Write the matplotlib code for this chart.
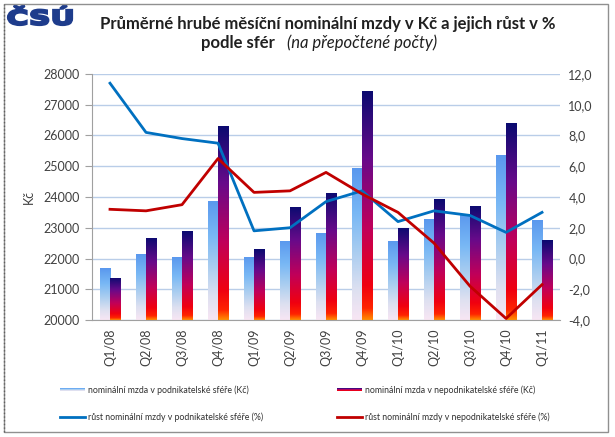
import numpy as np
import matplotlib
matplotlib.use("Agg")
import matplotlib.pyplot as plt
from matplotlib.colors import LinearSegmentedColormap
from matplotlib.patches import Rectangle, PathPatch
from matplotlib.lines import Line2D
from matplotlib.legend_handler import HandlerBase
from matplotlib.textpath import TextPath
from matplotlib.font_manager import FontProperties
from matplotlib.transforms import Affine2D
from matplotlib.ticker import FuncFormatter, MultipleLocator

plt.rcParams["font.family"] = ["Lato", "DejaVu Sans"]

quarters = ["Q1/08", "Q2/08", "Q3/08", "Q4/08", "Q1/09", "Q2/09", "Q3/09",
            "Q4/09", "Q1/10", "Q2/10", "Q3/10", "Q4/10", "Q1/11"]
mzda_podnik = [21680, 22140, 22040, 23870, 22060, 22580, 22840,
               24930, 22580, 23270, 23430, 25380, 23250]
mzda_nepodnik = [21380, 22680, 22880, 26320, 22300, 23690, 24140,
                 27450, 23000, 23920, 23720, 26390, 22600]
rust_podnik = [11.4, 8.2, 7.8, 7.5, 1.8, 2.0, 3.7, 4.4, 2.4, 3.1, 2.8, 1.7, 3.0]
rust_nepodnik = [3.2, 3.1, 3.5, 6.5, 4.3, 4.4, 5.6, 4.2, 3.0, 1.0, -1.8, -3.9, -1.7]

labels = ["nominální mzda v podnikatelské sféře (Kč)",
          "nominální mzda v nepodnikatelské sféře (Kč)",
          "růst nominální mzdy v podnikatelské sféře (%)",
          "růst nominální mzdy v nepodnikatelské sféře (%)"]

cmap_light = LinearSegmentedColormap.from_list("light", [
    (0.0, "#f8e6f4"), (0.2, "#dde0f0"), (0.45, "#a9cdf0"),
    (0.7, "#79b8f5"), (1.0, "#5a98ee")])
cmap_dark = LinearSegmentedColormap.from_list("dark", [
    (0.0, "#ff8c00"), (0.05, "#ff2400"), (0.15, "#f00010"),
    (0.4, "#c0005a"), (0.7, "#680a8a"), (1.0, "#0a0a70")])

blue = "#0070c0"
red = "#c00000"
grid_c = "#b9cde8"
axis_c = "#a0a0a0"

fig = plt.figure(figsize=(6.15, 4.37), dpi=100)
ax = fig.add_axes([0.1496, 0.2677, 0.7610, 0.5630])

x = np.arange(len(quarters))
w = 0.28
grad = np.linspace(0, 1, 256).reshape(-1, 1)


def gradient_bars(xs, vals, cmap):
    bars = ax.bar(xs, vals, w, bottom=0, color="none", edgecolor="none", zorder=2)
    for b in bars:
        x0, x1 = b.get_x(), b.get_x() + b.get_width()
        im = ax.imshow(grad, cmap=cmap, origin="lower", aspect="auto",
                       extent=(x0, x1, 20000, b.get_height()), zorder=2,
                       interpolation="bilinear")
        im.set_clip_path(b)
    return bars


gradient_bars(x - w / 2, mzda_podnik, cmap_light)
gradient_bars(x + w / 2, mzda_nepodnik, cmap_dark)

ax.set_xlim(-0.5, len(quarters) - 0.5)
ax.set_ylim(20000, 28000)
ax.yaxis.set_major_locator(MultipleLocator(1000))
ax.grid(axis="y", color=grid_c, linewidth=1.0, zorder=0)
ax.set_axisbelow(True)
ax.set_xticks(x)
ax.set_xticklabels(quarters, rotation=90, fontsize=9, color="#404040")
ax.tick_params(axis="x", length=0, pad=6)
ax.tick_params(axis="y", labelsize=9, labelcolor="#404040", color=axis_c,
               length=5, direction="out", pad=4)
for s in ["top", "right"]:
    ax.spines[s].set_visible(False)
for s in ["left", "bottom"]:
    ax.spines[s].set_color(axis_c)
ax.set_ylabel("Kč", fontsize=9, color="#404040", labelpad=6)

ax2 = ax.twinx()
ax2.plot(x, rust_podnik, color=blue, linewidth=2.0, zorder=3)
ax2.plot(x, rust_nepodnik, color=red, linewidth=2.0, zorder=3)
ax2.set_ylim(-4, 12)
ax2.yaxis.set_major_locator(MultipleLocator(2))
ax2.yaxis.set_major_formatter(FuncFormatter(lambda v, p: f"{v:.1f}".replace(".", ",")))
ax2.tick_params(axis="y", labelsize=9, labelcolor="#404040", length=0, pad=6)
for s in ax2.spines.values():
    s.set_visible(False)


class GradHandler(HandlerBase):
    def __init__(self, cmap):
        super().__init__()
        self.cmap = cmap

    def create_artists(self, legend, orig, xd, yd, width, height, fontsize, trans):
        n = 8
        h = height * 0.6
        y0 = yd + (height - h) / 2
        arts = []
        for i in range(n):
            r = Rectangle((xd, y0 + i * h / n), width, h / n,
                          facecolor=self.cmap((i + 0.5) / n), edgecolor="none",
                          transform=trans)
            arts.append(r)
        return arts


h_light = Rectangle((0, 0), 1, 1)
h_dark = Rectangle((0, 0), 1, 1)
h_blue = Line2D([], [], color=blue, linewidth=2.0)
h_red = Line2D([], [], color=red, linewidth=2.0)
fig.legend([h_light, h_blue, h_dark, h_red],
           [labels[0], labels[2], labels[1], labels[3]],
           handler_map={h_light: GradHandler(cmap_light), h_dark: GradHandler(cmap_dark)},
           ncol=2, loc="upper left", bbox_to_anchor=(0.085, 0.137),
           frameon=False, fontsize=6.3, handlelength=2.85, handletextpad=0.3,
           columnspacing=8.5, labelspacing=2.0, labelcolor="#303030")

# title
fig.text(0.5325, 0.945, "Průměrné hrubé měsíční nominální mzdy v Kč a jejich růst v %",
         ha="center", va="center", fontsize=12, fontweight="bold", color="#202020")
fig.text(0.447, 0.902, "podle sfér", ha="right", va="center", fontsize=12,
         fontweight="bold", color="#202020")
fig.text(0.467, 0.902, "(na přepočtené počty)", ha="left", va="center", fontsize=12,
         style="italic", color="#202020")

# logo, stretched to the box it fills in the original
tp = TextPath((0, 0), "ČSÚ", size=20, prop=FontProperties(family="DejaVu Sans", weight="heavy"))
bb = tp.get_extents()
sx = 64 / bb.width
sy = 19 / bb.height
logo_tr = Affine2D().translate(-bb.x0, -bb.y0).scale(sx, sy).translate(8, 437 - 25)
fig.add_artist(PathPatch(tp, transform=logo_tr, facecolor="#1e3c8c",
                         edgecolor="#1e3c8c", linewidth=1.6, joinstyle="miter"))

# frame
fig.add_artist(Rectangle((0.007, 0.011), 0.982, 0.979, transform=fig.transFigure,
                         fill=False, edgecolor="#909090", linewidth=1.0))
fig.add_artist(Line2D([0.007, 0.007], [0.011, 0.99], transform=fig.transFigure,
                      color="#606060", linewidth=1.0, linestyle=":"))

fig.savefig("out.png", dpi=100)
